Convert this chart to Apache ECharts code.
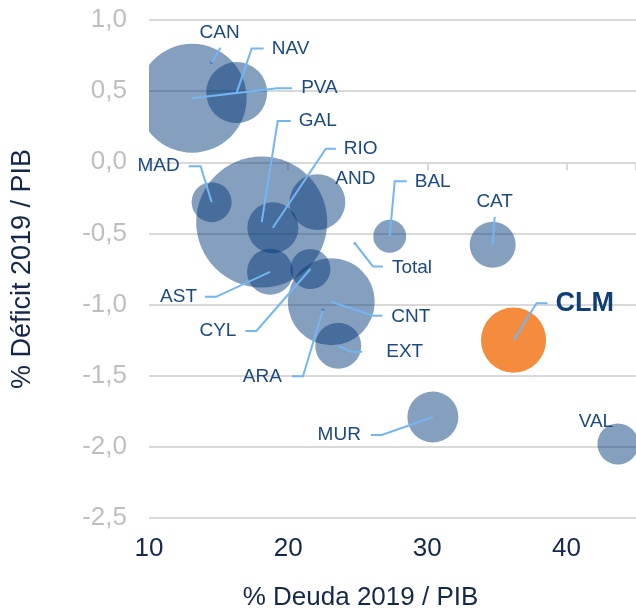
<!DOCTYPE html>
<html>
<head>
<meta charset="utf-8">
<script src="https://cdn.jsdelivr.net/npm/echarts@6.0.0/dist/echarts.min.js"></script>
<style>
	html, body { margin: 0; padding: 0; background: #fff; }
	#main { width: 636px; height: 616px; }
</style>
</head>
<body>
<div id="main"></div>
<script type="text/javascript">
	// datos por comunidad
	var regiones = ['CAN', 'NAV', 'PVA', 'GAL', 'RIO', 'MAD', 'AND', 'BAL', 'Total', 'CAT', 'CLM', 'CNT', 'EXT', 'ARA', 'AST', 'CYL', 'MUR', 'VAL'];
	var deuda = [14.5, 16.3, 13.1, 18.1, 18.9, 14.5, 22.1, 27.3, 24.8, 34.7, 36.2, 23.1, 23.6, 22.5, 18.7, 21.6, 30.4, 43.7];
	var deficit = [0.70, 0.49, 0.45, -0.42, -0.46, -0.28, -0.28, -0.52, -0.57, -0.58, -1.25, -0.98, -1.29, -1.04, -0.77, -0.75, -1.79, -1.98];
	var tamano = [0.02, 9.3, 29.7, 42.9, 6.5, 4.0, 7.8, 2.7, 0.02, 5.3, 10.6, 18.9, 5.3, 0.02, 5.3, 4.0, 6.5, 4.2];
	var ticksX = [10, 20, 30, 40];
	var ticksY = [-2.5, -2.0, -1.5, -1.0, -0.5, 0.0, 0.5, 1.0];

	// colocacion de etiquetas (px respecto al punto)
	var etiquetas = {
		CAN:   {t: [8, -30],   a: 'center', l: [[0, 0], [9, -15]]},
		NAV:   {t: [35, -44],  a: 'left',   l: [[0, 0], [15, -44], [27, -44]]},
		PVA:   {t: [109, -10], a: 'left',   l: [[0, 0], [85, -10], [100, -10]]},
		GAL:   {t: [37, -101], a: 'left',   l: [[0, 0], [16, -101], [29, -101]]},
		RIO:   {t: [71, -79],  a: 'left',   l: [[0, 0], [53, -79], [63, -79]]},
		MAD:   {t: [-32, -36], a: 'right',  l: [[0, 0], [-11, -36], [-23, -36]]},
		AND:   {t: [38, -23],  a: 'center', l: null},
		BAL:   {t: [25, -55],  a: 'left',   l: [[0, 0], [5, -55], [17, -55]]},
		Total: {t: [37, 24],   a: 'left',   l: [[0, 0], [18, 23], [28, 23]]},
		CAT:   {t: [2, -43],   a: 'center', l: [[0, 0], [2, -28]]},
		CLM:   {t: [42, -37],  a: 'left',   l: [[0, 0], [23, -37], [34, -37]]},
		CNT:   {t: [60, 15],   a: 'left',   l: [[0, 0], [42, 14], [51, 14]]},
		EXT:   {t: [48, 6],    a: 'left',   l: [[0, 0], [13, 6], [24, 6]]},
		ARA:   {t: [-41, 67],  a: 'right',  l: [[0, 0], [-20, 66], [-31, 66]]},
		AST:   {t: [-73, 25],  a: 'right',  l: [[0, 0], [-54, 25], [-65, 25]]},
		CYL:   {t: [-74, 62],  a: 'right',  l: [[0, 0], [-54, 62], [-65, 62]]},
		MUR:   {t: [-72, 18],  a: 'right',  l: [[0, 0], [-51, 18], [-62, 18]]},
		VAL:   {t: [-22, -22], a: 'center', l: null}
	};

	var fuente = 'Liberation Sans, Arial, sans-serif';
	var azul = 'rgba(0, 55, 120, 0.48)';
	var naranja = '#F58B3C';
	var linea = '#72B6F3';
	var escalaRadio = 10;

	var datos = [];
	for (var i = 0; i < regiones.length; i++) {
		datos.push([deuda[i], deficit[i], tamano[i], i]);
	}

	var myChart = echarts.init(document.getElementById('main'), null, {renderer: 'canvas'});

	var option = {
		animation: false,
		grid: {left: 149, top: 20, width: 488, height: 504, containLabel: false},
		xAxis: [{
			type: 'value',
			min: 10, max: 45, interval: 10,
			position: 'bottom',
			name: '% Deuda 2019 / PIB',
			nameLocation: 'middle',
			nameGap: 67,
			nameTextStyle: {color: '#15284A', fontSize: 26, fontFamily: fuente, padding: [0, 64, 0, 0]},
			axisLine: {show: false, onZero: false},
			axisTick: {show: false},
			splitLine: {show: false},
			axisLabel: {
				color: '#15284A', fontSize: 26, fontFamily: fuente, margin: 18,
				showMaxLabel: false,
				formatter: function (v) { return ticksX.indexOf(v) >= 0 ? String(v) : ''; }
			}
		}, {
			// eje en el cero: solo linea y marcas
			type: 'value',
			min: 10, max: 45, interval: 10,
			position: 'top',
			axisLine: {show: true, onZero: true, lineStyle: {color: '#D9D9D9', width: 2}},
			axisTick: {show: true, inside: true, length: 8, lineStyle: {color: '#D9D9D9', width: 2}},
			axisLabel: {show: false},
			splitLine: {show: false}
		}],
		yAxis: {
			type: 'value',
			min: -2.5, max: 1.0, interval: 0.5,
			name: '% Déficit 2019 / PIB',
			nameLocation: 'middle',
			nameGap: 113,
			nameTextStyle: {color: '#15284A', fontSize: 27, fontFamily: fuente},
			axisLine: {show: false},
			axisTick: {show: false},
			splitLine: {show: true, lineStyle: {color: '#D9D9D9', width: 2}},
			axisLabel: {
				color: '#BFBFBF', fontSize: 26, fontFamily: fuente, margin: 22,
				formatter: function (v) {
					if (ticksY.indexOf(v) < 0) return '';
					return v.toFixed(1).replace('.', ',');
				}
			}
		},
		series: [{
			// burbujas
			type: 'custom',
			clip: true,
			z: 2,
			data: datos,
			renderItem: function (params, api) {
				var p = api.coord([api.value(0), api.value(1)]);
				var nombre = regiones[api.value(3)];
				var r = escalaRadio * Math.sqrt(api.value(2));
				return {
					type: 'circle',
					shape: {cx: p[0], cy: p[1], r: r},
					style: {fill: nombre === 'CLM' ? naranja : azul}
				};
			}
		}, {
			// etiquetas con lineas guia
			type: 'custom',
			clip: false,
			z: 5,
			data: datos,
			renderItem: function (params, api) {
				var p = api.coord([api.value(0), api.value(1)]);
				var nombre = regiones[api.value(3)];
				var e = etiquetas[nombre];
				var hijos = [];
				if (e.l) {
					var pts = e.l.map(function (o) { return [p[0] + o[0], p[1] + o[1]]; });
					hijos.push({
						type: 'polyline',
						shape: {points: pts},
						style: {stroke: linea, lineWidth: 2, fill: null}
					});
				}
				var esClm = nombre === 'CLM';
				hijos.push({
					type: 'text',
					style: {
						x: p[0] + e.t[0],
						y: p[1] + e.t[1],
						text: nombre,
						fill: esClm ? '#0E3F75' : '#1B4A80',
						fontSize: esClm ? 27 : 19,
						fontWeight: esClm ? 'bold' : 'normal',
						fontFamily: fuente,
						align: e.a,
						verticalAlign: 'middle'
					}
				});
				return {type: 'group', children: hijos};
			}
		}]
	};

	myChart.setOption(option);
</script>
</body>
</html>
